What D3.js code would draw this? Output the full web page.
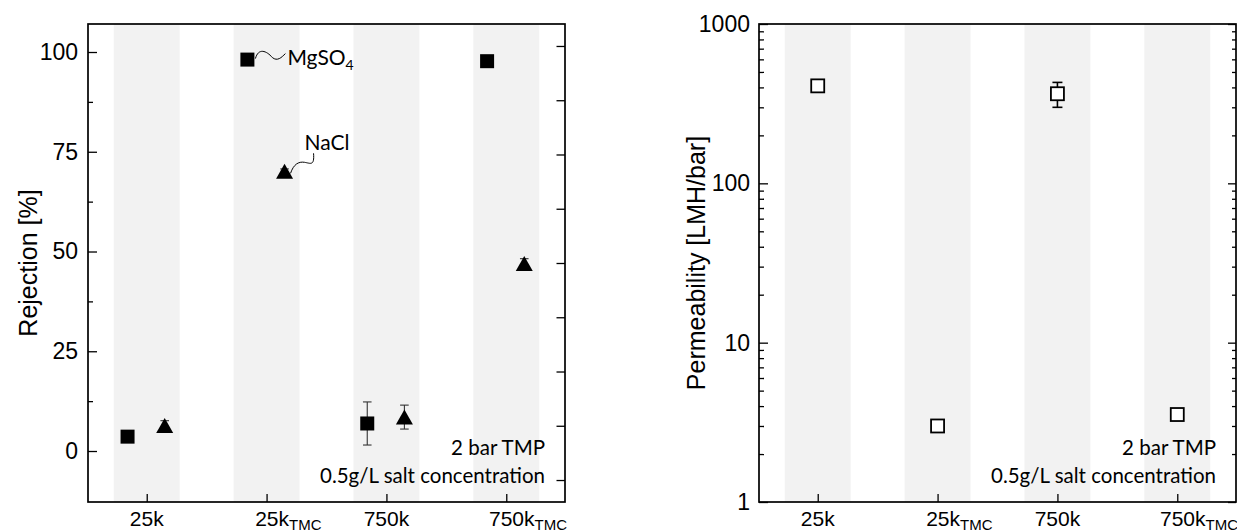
<!DOCTYPE html>
<html>
<head>
<meta charset="utf-8">
<script src="https://cdn.jsdelivr.net/npm/d3@7"></script>
<style>
  body { margin: 0; background: #fff; }
  svg { display: block; }
  .tick text { font-family: "Liberation Sans", Arial, sans-serif; fill: #000; }
  .tick line { stroke: #000; stroke-width: 1.3; }
</style>
</head>
<body>
<div id="chart"></div>
<script>
// categories on the x axis (main text + subscript)
const categories = ["25k", "25k", "750k", "750k"];
const categorySubs = ["", "TMC", "", "TMC"];

// left panel: salt rejection [%]
const mgso4Rejection = [3.6, 98.1, 6.9, 97.7];
const mgso4Error = [0.5, 0.5, 5.4, 0.5];
const naclRejection = [6.4, 70.1, 8.5, 47.0];
const naclError = [1.2, 0.6, 3.0, 1.2];
const rejectionTicks = [0, 25, 50, 75, 100];
const rejectionMinorTicks = [12.5, 37.5, 62.5, 87.5];
const rightAxisTicks = [0, 1, 2, 3, 4, 5, 6, 7, 8];

// right panel: permeability [LMH/bar]
const permeability = [409, 3.0, 365, 3.54];
const permeabilityLow = [390, 2.88, 300, 3.42];
const permeabilityHigh = [430, 3.12, 430, 3.66];
const permTicks = [1, 10, 100, 1000];
const permMinorTicks = [2, 3, 4, 5, 6, 7, 8, 9, 20, 30, 40, 50, 60, 70, 80, 90, 200, 300, 400, 500, 600, 700, 800, 900];

const noteLines = ["2 bar TMP", "0.5g/L salt concentration"];

const width = 1237, height = 532;
const plotTop = 24, plotBottom = 502;
const panels = [{ x0: 88, x1: 565 }, { x0: 759, x1: 1236 }];

const svg = d3.select("#chart").append("svg")
  .attr("width", width)
  .attr("height", height);

const annoFont = "Lato, 'Open Sans', sans-serif";
const tickFont = "'Liberation Sans', Arial, sans-serif";

function makeX(p) {
  return d3.scaleLinear().domain([-0.49, 3.49]).range([p.x0, p.x1]);
}

function drawBands(g, x) {
  g.append("g").selectAll("rect")
    .data(categories)
    .join("rect")
    .attr("x", (d, i) => x(i - 0.275))
    .attr("width", (d, i) => x(i + 0.275) - x(i - 0.275))
    .attr("y", plotTop)
    .attr("height", plotBottom - plotTop)
    .attr("fill", "#f2f2f2");
}

function drawXAxis(g, x) {
  g.append("g")
    .attr("transform", `translate(0,${plotBottom})`)
    .call(d3.axisBottom(x).tickValues([0, 1, 2, 3]).tickSize(-8).tickFormat(""))
    .call(a => a.select(".domain").remove());

  const labels = g.append("g");
  categories.forEach((c, i) => {
    const cx = categorySubs[i] ? x(i) + 5.5 : x(i);
    const main = labels.append("text")
      .attr("x", cx)
      .attr("y", 526)
      .attr("text-anchor", "middle")
      .style("font-family", tickFont)
      .style("font-size", "21px")
      .text(c);
    if (categorySubs[i]) {
      const w = main.node().getComputedTextLength();
      labels.append("text")
        .attr("x", cx + w / 2)
        .attr("y", 530)
        .style("font-family", tickFont)
        .style("font-size", "15px")
        .text(categorySubs[i]);
    }
  });
}

function drawFrame(g, p) {
  g.append("rect")
    .attr("x", p.x0)
    .attr("y", plotTop)
    .attr("width", p.x1 - p.x0)
    .attr("height", plotBottom - plotTop)
    .attr("fill", "none")
    .attr("stroke", "#000")
    .attr("stroke-width", 1.7);
}

function drawNote(g, p) {
  g.append("g").selectAll("text")
    .data(noteLines)
    .join("text")
    .attr("x", p.x1 - 20)
    .attr("y", (d, i) => 455 + i * 28)
    .attr("text-anchor", "end")
    .style("font-family", annoFont)
    .style("font-size", "20.5px")
    .text(d => d);
}

function yTitle(g, x, text) {
  g.append("text")
    .attr("transform", `translate(${x},${(plotTop + plotBottom) / 2}) rotate(-90)`)
    .attr("text-anchor", "middle")
    .style("font-family", tickFont)
    .style("font-size", "25px")
    .text(text);
}

function errorBar(g, cx, yLo, yHi, color, sw, cap) {
  g.append("line")
    .attr("x1", cx).attr("x2", cx)
    .attr("y1", yLo).attr("y2", yHi)
    .attr("stroke", color).attr("stroke-width", sw);
  [yLo, yHi].forEach(yy => {
    g.append("line")
      .attr("x1", cx - cap).attr("x2", cx + cap)
      .attr("y1", yy).attr("y2", yy)
      .attr("stroke", color).attr("stroke-width", sw);
  });
}

// ---------------- left panel: rejection ----------------
(function() {
  const p = panels[0];
  const g = svg.append("g");
  const x = makeX(p);
  const y = d3.scaleLinear().domain([-12.78, 107.02]).range([plotBottom, plotTop]);
  const yRight = d3.scaleLinear().domain([-0.405, 8.405]).range([plotBottom, plotTop]);

  drawBands(g, x);

  const sqOff = -0.16, triOff = 0.15;
  const marks = g.append("g");

  mgso4Rejection.forEach((v, i) => {
    const cx = x(i + sqOff);
    errorBar(marks, cx, y(v - mgso4Error[i]), y(v + mgso4Error[i]), "#333", 1.1, 4.3);
  });
  naclRejection.forEach((v, i) => {
    const cx = x(i + triOff);
    errorBar(marks, cx, y(v - naclError[i]), y(v + naclError[i]), "#333", 1.1, 4.3);
  });

  marks.selectAll("rect.sq")
    .data(mgso4Rejection)
    .join("rect")
    .attr("class", "sq")
    .attr("x", (d, i) => x(i + sqOff) - 7)
    .attr("y", d => y(d) - 7)
    .attr("width", 14)
    .attr("height", 14)
    .attr("fill", "#000");

  marks.selectAll("path.tri")
    .data(naclRejection)
    .join("path")
    .attr("class", "tri")
    .attr("d", (d, i) => {
      const cx = x(i + triOff), cy = y(d);
      return `M${cx},${cy - 7.5}L${cx + 8.5},${cy + 7.5}L${cx - 8.5},${cy + 7.5}Z`;
    })
    .attr("fill", "#000");

  drawFrame(g, p);

  g.append("g")
    .attr("transform", `translate(${p.x0},0)`)
    .call(d3.axisLeft(y).tickValues(rejectionTicks).tickSize(-9).tickPadding(10))
    .call(a => a.select(".domain").remove())
    .call(a => a.selectAll("text").style("font-size", "23px"));
  g.append("g")
    .attr("transform", `translate(${p.x0},0)`)
    .call(d3.axisLeft(y).tickValues(rejectionMinorTicks).tickSize(-5).tickFormat(""))
    .call(a => a.select(".domain").remove());
  g.append("g")
    .attr("transform", `translate(${p.x1},0)`)
    .call(d3.axisRight(yRight).tickValues(rightAxisTicks).tickSize(-8.5).tickFormat(""))
    .call(a => a.select(".domain").remove());

  drawXAxis(g, x);
  yTitle(g, 37, "Rejection [%]");
  drawNote(g, p);

  // labels with squiggly leaders
  const sx = x(1 + sqOff) + 8, sy = y(mgso4Rejection[1]) - 1;
  g.append("path")
    .attr("d", `M${sx},${sy}C${sx + 3},${sy - 11} ${sx + 11},${sy - 8} ${sx + 17},${sy - 1}C${sx + 22},${sy + 3} ${sx + 26},${sy - 1} ${sx + 30},${sy - 5}`)
    .attr("fill", "none").attr("stroke", "#000").attr("stroke-width", 1);
  const mg = g.append("text")
    .attr("x", sx + 32)
    .attr("y", sy + 6)
    .style("font-family", annoFont)
    .style("font-size", "21px");
  mg.append("tspan").text("MgSO");
  mg.append("tspan").attr("dy", 5).style("font-size", "14px").text("4");

  const tx = x(1 + triOff) + 6, ty = y(naclRejection[1]) + 2;
  g.append("path")
    .attr("d", `M${tx},${ty}C${tx + 3},${ty - 9} ${tx + 8},${ty - 12} ${tx + 14},${ty - 11}C${tx + 20},${ty - 10} ${tx + 24},${ty - 7} ${tx + 23},${ty - 20}`)
    .attr("fill", "none").attr("stroke", "#000").attr("stroke-width", 1);
  g.append("text")
    .attr("x", tx + 14)
    .attr("y", ty - 23)
    .style("font-family", annoFont)
    .style("font-size", "21px")
    .text("NaCl");
})();

// ---------------- right panel: permeability ----------------
(function() {
  const p = panels[1];
  const g = svg.append("g");
  const x = makeX(p);
  const y = d3.scaleLog().domain([1, 1000]).range([plotBottom, plotTop]);

  drawBands(g, x);

  const marks = g.append("g");
  permeability.forEach((v, i) => {
    errorBar(marks, x(i), y(permeabilityLow[i]), y(permeabilityHigh[i]), "#000", 1.6, 5);
  });

  marks.selectAll("rect")
    .data(permeability)
    .join("rect")
    .attr("x", (d, i) => x(i) - 6.5)
    .attr("y", d => y(d) - 6.5)
    .attr("width", 13)
    .attr("height", 13)
    .attr("fill", "#fff")
    .attr("stroke", "#000")
    .attr("stroke-width", 1.8);

  drawFrame(g, p);

  g.append("g")
    .attr("transform", `translate(${p.x0},0)`)
    .call(d3.axisLeft(y).tickValues(permTicks).tickSize(-9).tickPadding(9).tickFormat(d3.format("d")))
    .call(a => a.select(".domain").remove())
    .call(a => a.selectAll("text").style("font-size", "23px"));
  g.append("g")
    .attr("transform", `translate(${p.x0},0)`)
    .call(d3.axisLeft(y).tickValues(permMinorTicks).tickSize(-5).tickFormat(""))
    .call(a => a.select(".domain").remove());
  g.append("g")
    .attr("transform", `translate(${p.x1},0)`)
    .call(d3.axisRight(y).tickValues(permTicks).tickSize(-8).tickFormat(""))
    .call(a => a.select(".domain").remove());
  g.append("g")
    .attr("transform", `translate(${p.x1},0)`)
    .call(d3.axisRight(y).tickValues(permMinorTicks).tickSize(-4).tickFormat(""))
    .call(a => a.select(".domain").remove());

  drawXAxis(g, x);
  yTitle(g, 705, "Permeability [LMH/bar]");
  drawNote(g, p);
})();
</script>
</body>
</html>
